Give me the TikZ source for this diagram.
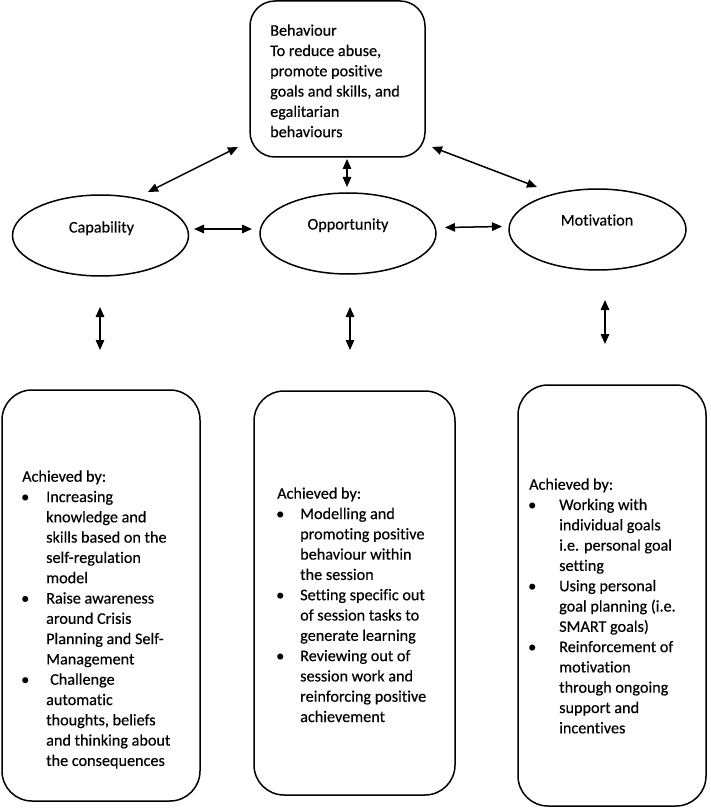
\documentclass[tikz,border=0pt]{standalone}
\usepackage{fontspec}
\setmainfont{Carlito}[Ligatures=NoCommon,FakeBold=0.3]
\usetikzlibrary{arrows.meta,shapes.geometric}
\newcommand{\bul}[1]{\makebox[#1][l]{\hspace{-1pt}\textbullet}}
\newcommand{\ind}[1]{\hspace*{#1}}
\begin{document}
\begin{tikzpicture}[x=1pt,y=-1pt,
  txt/.style={font=\fontsize{16.2}{20.3}\selectfont, inner sep=0pt, align=left, anchor=north west},
  lbl/.style={font=\fontsize{16.2}{20.3}\selectfont, inner sep=0pt, anchor=base},
  box/.style={draw, line width=1.5pt, rounded corners=30pt, inner sep=0pt},
  ell/.style={draw, ellipse, line width=1.5pt, inner sep=0pt},
  arr/.style={line width=1.5pt, {Triangle[length=10pt,width=8.5pt]}-{Triangle[length=10pt,width=8.5pt]}}]
\useasboundingbox (0,0) rectangle (710,810);
\fill[white] (0,0) rectangle (710,810);

% top box
\node[box, rounded corners=25pt, minimum width=175pt, minimum height=156pt] (beh) at (337.5,79) {};
\node[txt] (behtxt) at (270,21.3) {\strut Behaviour\\To reduce abuse,\\promote positive\\goals and skills, and\\egalitarian\\behaviours};

% ellipses
\node[ell, minimum width=176pt, minimum height=81pt] (cap) at (100.5,235.5) {};
\node[ell, minimum width=176pt, minimum height=81pt] (opp) at (348,233.5) {};
\node[ell, minimum width=177pt, minimum height=81pt] (mot) at (597.5,229.5) {};
\node[lbl] (capl) at (101.5,232.5) {Capability};
\node[lbl] (oppl) at (348,229.5) {Opportunity};
\node[lbl] (motl) at (597,225.5) {Motivation};

% lower boxes
\node[box, minimum width=198pt, minimum height=411pt] (b1) at (101,595.5) {};
\node[box, minimum width=201pt, minimum height=404pt] (b2) at (354.5,593) {};
\node[box, minimum width=188pt, minimum height=421pt] (b3) at (612,595.5) {};

\node[txt] (t1) at (22,467.3) {\strut Achieved by:\\
\bul{24pt}Increasing\\
\ind{24pt}knowledge and\\
\ind{24pt}skills based on the\\
\ind{24pt}self-regulation\\
\ind{24pt}model\\
\bul{24pt}Raise awareness\\
\ind{24pt}around Crisis\\
\ind{24pt}Planning and Self-\\
\ind{24pt}Management\\
\bul{24pt}\hspace{4pt}Challenge\\
\ind{24pt}automatic\\
\ind{24pt}thoughts, beliefs\\
\ind{24pt}and thinking about\\
\ind{24pt}the consequences};

\node[txt] (t2) at (277,484.3) {\strut Achieved by:\\
\bul{23pt}Modelling and\\
\ind{23pt}promoting positive\\
\ind{23pt}behaviour within\\
\ind{23pt}the session\\
\bul{23pt}Setting specific out\\
\ind{23pt}of session tasks to\\
\ind{23pt}generate learning\\
\bul{23pt}Reviewing out of\\
\ind{23pt}session work and\\
\ind{23pt}reinforcing positive\\
\ind{23pt}achievement};

\node[txt] (t3) at (529,475.3) {\strut Achieved by:\\
\bul{30pt}Working with\\
\ind{30pt}individual goals\\
\ind{30pt}i.e. personal goal\\
\ind{30pt}setting\\
\bul{30pt}Using personal\\
\ind{30pt}goal planning (i.e.\\
\ind{30pt}SMART goals)\\
\bul{30pt}Reinforcement of\\
\ind{30pt}motivation\\
\ind{30pt}through ongoing\\
\ind{30pt}support and\\
\ind{30pt}incentives};

% arrow end points
\coordinate (a1s) at (238,147); \coordinate (a1e) at (148,192);
\coordinate (a2s) at (347,159); \coordinate (a2e) at (347,187);
\coordinate (a3s) at (432,147); \coordinate (a3e) at (537,187);
\coordinate (a4s) at (194,229); \coordinate (a4e) at (252,229);
\coordinate (a5s) at (445,227.5); \coordinate (a5e) at (502,226.5);
\coordinate (a6s) at (100,307); \coordinate (a6e) at (100,350);
\coordinate (a7s) at (350,307); \coordinate (a7e) at (350,350);
\coordinate (a8s) at (605,300); \coordinate (a8e) at (605,344);

\draw[arr] (a1s) -- (a1e);
\draw[arr] (a2s) -- (a2e);
\draw[arr] (a3s) -- (a3e);
\draw[arr] (a4s) -- (a4e);
\draw[arr] (a5s) -- (a5e);
\draw[arr] (a6s) -- (a6e);
\draw[arr] (a7s) -- (a7e);
\draw[arr] (a8s) -- (a8e);
\end{tikzpicture}
\end{document}
